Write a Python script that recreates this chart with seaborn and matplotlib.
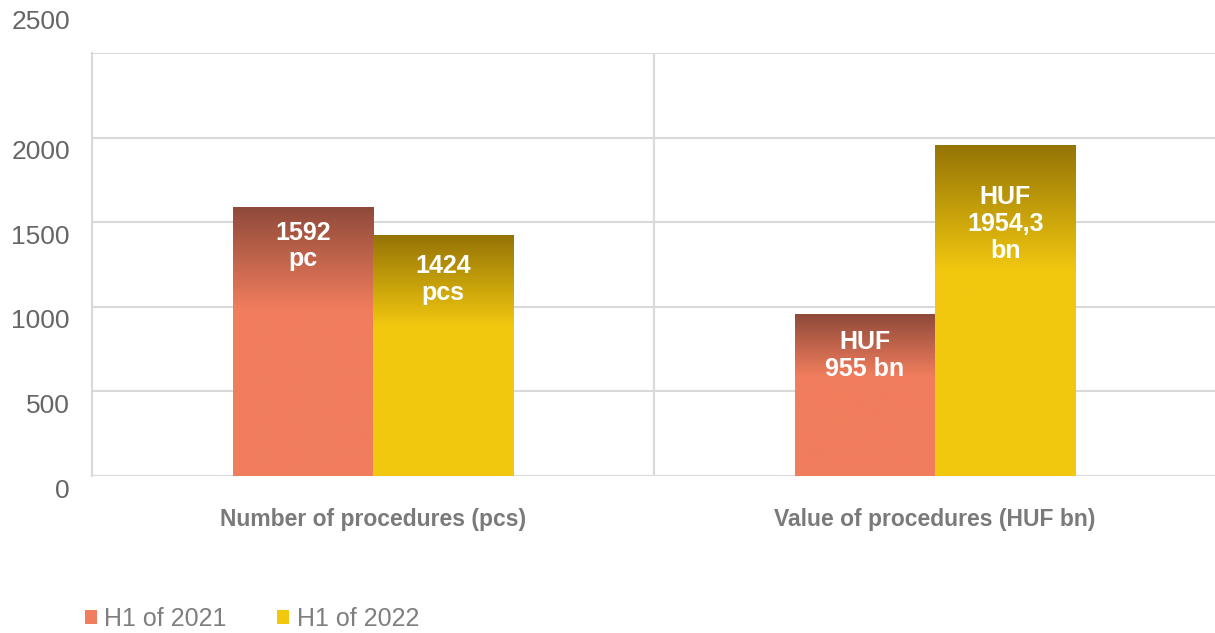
import matplotlib
matplotlib.use("Agg")
import matplotlib.pyplot as plt
import matplotlib.transforms as mtransforms
from matplotlib.colors import to_rgb
from matplotlib.patches import Patch
import numpy as np
import pandas as pd
import seaborn as sns

# data
CATEGORIES = ["Number of procedures (pcs)", "Value of procedures (HUF bn)"]
SERIES = ["H1 of 2021", "H1 of 2022"]
VALUES_2021 = [1592, 955]
VALUES_2022 = [1424, 1954.3]
LABELS_2021 = ["1592\npc", "HUF\n955 bn"]
LABELS_2022 = ["1424\npcs", "HUF\n1954,3\nbn"]
Y_TICKS = [0, 500, 1000, 1500, 2000, 2500]

# styling
BASE_COLORS = {"H1 of 2021": "#f07d5d", "H1 of 2022": "#f2c80f"}
TOP_COLORS = {"H1 of 2021": "#8f4a3a", "H1 of 2022": "#957406"}
GRID = "#d9d9d9"
FONT = ["Liberation Sans", "DejaVu Sans"]

sns.set_theme(style="white")
plt.rcParams["font.family"] = FONT

df = pd.DataFrame(
    {
        "category": CATEGORIES * 2,
        "series": [SERIES[0]] * 2 + [SERIES[1]] * 2,
        "value": VALUES_2021 + VALUES_2022,
        "label": LABELS_2021 + LABELS_2022,
    }
)

fig = plt.figure(figsize=(12.15, 6.33), dpi=100)
ax = fig.add_axes([92 / 1215, 1 - 476 / 633, 1124 / 1215, 423 / 633])

sns.barplot(
    data=df,
    x="category",
    y="value",
    hue="series",
    order=CATEGORIES,
    hue_order=SERIES,
    palette=BASE_COLORS,
    width=0.5,
    gap=0,
    saturation=1,
    edgecolor="none",
    linewidth=0,
    legend=False,
    ax=ax,
    zorder=3,
)

# vertical gradient on the top part of every bar
bars = list(ax.patches)
bar_series = [SERIES[0]] * len(CATEGORIES) + [SERIES[1]] * len(CATEGORIES)
for bar, ser in zip(bars, bar_series):
    x0, w, h = bar.get_x(), bar.get_width(), bar.get_height()
    t = np.linspace(0, 1, 200)
    frac = np.clip(t / 0.38, 0, 1)[:, None]
    top = np.array(to_rgb(TOP_COLORS[ser]))
    base = np.array(to_rgb(BASE_COLORS[ser]))
    rgb = top * (1 - frac) + base * frac
    im = ax.imshow(rgb[:, None, :], extent=(x0, x0 + w, 0, h), aspect="auto",
                   origin="upper", zorder=4, interpolation="bilinear")
    im.set_clip_path(bar)

# value labels inside bars
label_drop_px = [14, 16, 19, 40]
labels = LABELS_2021 + LABELS_2022
for bar, text, drop in zip(bars, labels, label_drop_px):
    cx = bar.get_x() + bar.get_width() / 2
    offset = mtransforms.ScaledTranslation(0, -drop / 100, fig.dpi_scale_trans)
    ax.text(
        cx, bar.get_height(), text,
        transform=ax.transData + offset,
        ha="center", va="top", color="white", fontsize=18, fontweight="bold",
        linespacing=1.15, zorder=6,
    )

ax.set_xlim(-0.5, 1.5)
ax.set_ylim(0, 2500)
ax.set_yticks(Y_TICKS)
ax.yaxis.grid(True, color=GRID, linewidth=1.5, zorder=0)
ax.axvline(0.5, color=GRID, linewidth=1.5, zorder=0)
ax.set_axisbelow(True)
for side in ["top", "right", "bottom"]:
    ax.spines[side].set_visible(False)
ax.spines["left"].set_color(GRID)
ax.spines["left"].set_linewidth(1.5)

ax.set_xlabel("")
ax.set_ylabel("")
ax.tick_params(axis="y", length=0, pad=16, labelsize=19, labelcolor="#666666")
ax.tick_params(axis="x", length=0, pad=23, labelsize=16.5, labelcolor="#7a7a7a")
for lab in ax.get_xticklabels():
    lab.set_fontweight("bold")

# y labels sit a little under their gridlines, the top one well above
for lab, val in zip(ax.get_yticklabels(), Y_TICKS):
    dy = 33 if val == 2500 else -12
    lab.set_transform(lab.get_transform() + mtransforms.ScaledTranslation(0, dy / 100, fig.dpi_scale_trans))

handles = [Patch(facecolor=BASE_COLORS[s], edgecolor="none") for s in SERIES]
fig.legend(
    handles, SERIES,
    loc="center left", bbox_to_anchor=(62 / 1215, 1 - 619 / 633),
    ncol=2, frameon=False, fontsize=18, labelcolor="#7f7f7f",
    handlelength=0.5, handleheight=0.5, handletextpad=0.3, columnspacing=2.0,
)

fig.savefig("out.png", dpi=100)
